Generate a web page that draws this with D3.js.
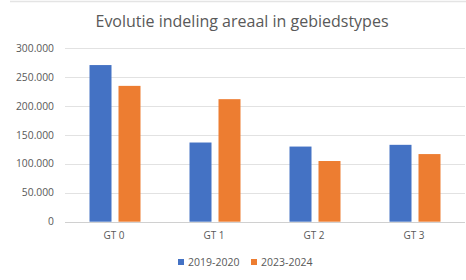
<!DOCTYPE html>
<html>
<head>
<meta charset="utf-8">
<style>
  body { margin: 0; background: #fff; }
  text { font-family: "Open Sans", "Liberation Sans", sans-serif; fill: #595959; }
</style>
<script src="https://d3js.org/d3.v7.min.js"></script>
</head>
<body>
<script>
var categories = ["GT 0", "GT 1", "GT 2", "GT 3"];
var series = ["2019-2020", "2023-2024"];
var values2019 = [271000, 137000, 130000, 133000];
var values2023 = [235000, 212000, 105000, 117000];
var yTicks = [0, 50000, 100000, 150000, 200000, 250000, 300000];
var colors = ["#4472C4", "#ED7D31"];

var w = 466, h = 280;

var svg = d3.select("body")
    .append("svg")
    .attr("width", w)
    .attr("height", h);

// faint frame line at top
svg.append("line")
    .attr("x1", 10).attr("x2", w).attr("y1", 1.5).attr("y2", 1.5)
    .attr("stroke", "#e4e4e4").attr("stroke-width", 1.5);

svg.append("text")
    .attr("x", 242)
    .attr("y", 26.5)
    .attr("text-anchor", "middle")
    .attr("font-size", 16)
    .text("Evolutie indeling areaal in gebiedstypes");

var y = d3.scaleLinear().domain([0, 300000]).range([221.7, 48.3]);

var x0 = d3.scaleBand().domain(categories).range([65, 465])
    .paddingInner(0.49).paddingOuter(0.245);
var x1 = d3.scaleBand().domain(series).range([0, x0.bandwidth()])
    .paddingInner(0.2414);

var fmt = function(d) { return d3.format(",")(d).replace(/,/g, "."); };

// gridlines
svg.append("g").selectAll("line")
    .data(yTicks)
    .enter().append("line")
    .attr("x1", 65).attr("x2", 465)
    .attr("y1", function(d) { return Math.round(y(d)) + 0.5; })
    .attr("y2", function(d) { return Math.round(y(d)) + 0.5; })
    .attr("stroke", function(d) { return d === 0 ? "#d0d0d0" : "#e2e2e2"; })
    .attr("stroke-width", 1);

svg.append("g").selectAll("text")
    .data(yTicks)
    .enter().append("text")
    .attr("x", 54)
    .attr("y", function(d) { return y(d) + 3.5; })
    .attr("text-anchor", "end")
    .attr("font-size", 10.3)
    .text(fmt);

var rows = categories.map(function(c, i) {
  return { cat: c, vals: [values2019[i], values2023[i]] };
});

var groups = svg.append("g").selectAll("g")
    .data(rows)
    .enter().append("g")
    .attr("transform", function(d) { return "translate(" + x0(d.cat) + ",0)"; });

groups.selectAll("rect")
    .data(function(d) { return d.vals.map(function(v, j) { return { s: series[j], v: v, j: j }; }); })
    .enter().append("rect")
    .attr("x", function(d) { return x1(d.s); })
    .attr("width", x1.bandwidth())
    .attr("y", function(d) { return y(d.v); })
    .attr("height", function(d) { return y(0) - y(d.v); })
    .attr("fill", function(d) { return colors[d.j]; });

svg.append("g").selectAll("text")
    .data(categories)
    .enter().append("text")
    .attr("x", function(d) { return x0(d) + x0.bandwidth() / 2 - 1; })
    .attr("y", 238.5)
    .attr("text-anchor", "middle")
    .attr("font-size", 10)
    .text(function(d) { return d; });

// legend
var legendX = [178, 251];
var legend = svg.append("g").selectAll("g")
    .data(series)
    .enter().append("g")
    .attr("transform", function(d, i) { return "translate(" + legendX[i] + ",259)"; });

legend.append("rect")
    .attr("width", 6).attr("height", 6)
    .attr("fill", function(d, i) { return colors[i]; });

legend.append("text")
    .attr("x", 10)
    .attr("y", 7)
    .attr("font-size", 10.5)
    .text(function(d) { return d; });
</script>
</body>
</html>
